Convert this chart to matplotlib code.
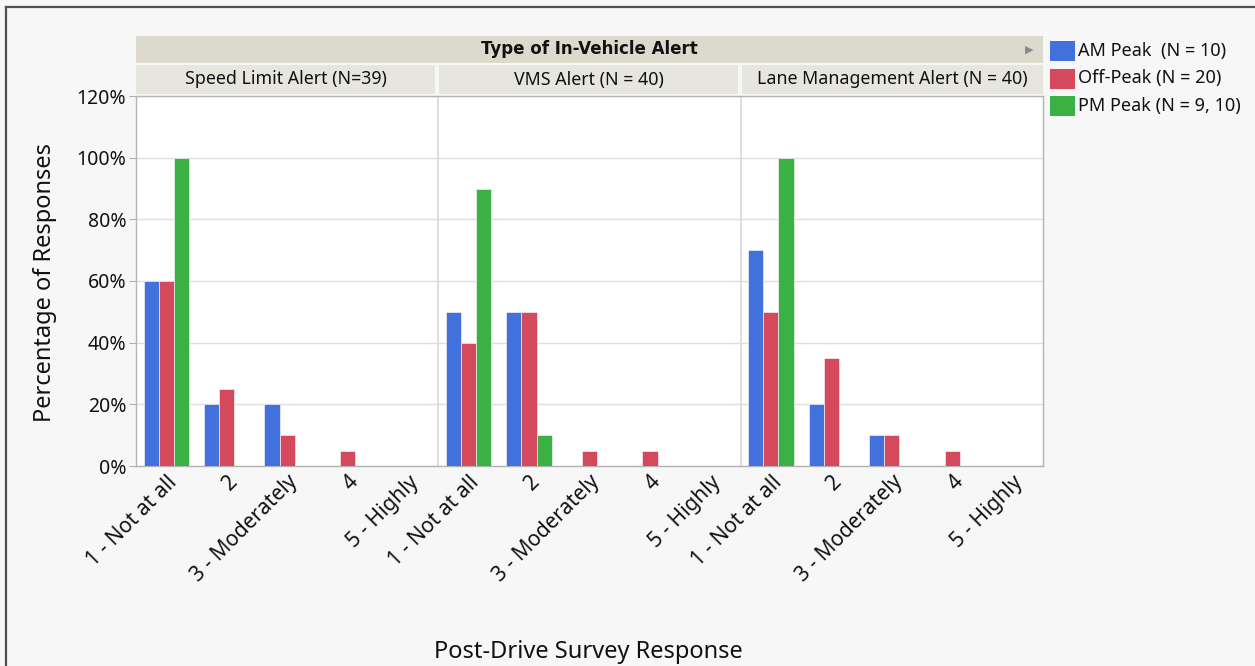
import matplotlib.pyplot as plt
import numpy as np
from matplotlib.patches import Rectangle
from matplotlib.lines import Line2D
from matplotlib.ticker import PercentFormatter

plt.rcParams['font.family'] = ['Noto Sans', 'DejaVu Sans']

# data (percent of responses)
panels = ['Speed Limit Alert (N=39)', 'VMS Alert (N = 40)', 'Lane Management Alert (N = 40)']
responses = ['1 - Not at all', '2', '3 - Moderately', '4', '5 - Highly']
series = ['AM Peak  (N = 10)', 'Off-Peak (N = 20)', 'PM Peak (N = 9, 10)']
colors = ['#4271DE', '#D44A5C', '#3BB143']

am_peak = [[60, 20, 20, 0, 0], [50, 50, 0, 0, 0], [70, 20, 10, 0, 0]]
off_peak = [[60, 25, 10, 5, 0], [40, 50, 5, 5, 0], [50, 35, 10, 5, 0]]
pm_peak = [[100, 0, 0, 0, 0], [90, 10, 0, 0, 0], [100, 0, 0, 0, 0]]

W, H = 1255, 666
fig = plt.figure(figsize=(W / 100, H / 100), dpi=100, facecolor='#f7f7f7')


def px_axes(x0, y0, x1, y1):
    # pixel box (top-left origin) -> figure axes
    return fig.add_axes([x0 / W, 1 - y1 / H, (x1 - x0) / W, (y1 - y0) / H])


# outer frame
fig.add_artist(Line2D([6 / W, 6 / W], [0, 1 - 7 / H], color='#505050', lw=1.6))
fig.add_artist(Line2D([6 / W, 1], [1 - 7 / H, 1 - 7 / H], color='#505050', lw=1.6))

ax = px_axes(136, 96, 1043, 466)
ax.set_facecolor('white')

n_cat = len(responses)
bw = 0.25
for p in range(len(panels)):
    x = np.arange(n_cat) + p * n_cat
    for k, vals in enumerate([am_peak, off_peak, pm_peak]):
        v = np.array(vals[p]) / 100
        keep = v > 0
        ax.bar(x[keep] + (k - 1) * bw, v[keep], bw, color=colors[k],
               edgecolor='#f0f0f0', linewidth=0.5, zorder=3)

ax.set_xlim(-0.5, len(panels) * n_cat - 0.5)
ax.set_ylim(0, 1.2)
ax.set_yticks(np.arange(0, 1.21, 0.2))
ax.yaxis.set_major_formatter(PercentFormatter(1.0, decimals=0))
ax.grid(axis='y', color='#dedede', lw=1, zorder=0)
for b in [n_cat - 0.5, 2 * n_cat - 0.5]:
    ax.axvline(b, color='#d8d8d8', lw=1.2, zorder=1)

ax.set_xticks(np.arange(len(panels) * n_cat))
ax.set_xticklabels(responses * len(panels), rotation=45, ha='right',
                   rotation_mode='anchor', fontsize=15, color='#111111')
ax.tick_params(axis='x', length=0, pad=4)
ax.tick_params(axis='y', length=5, color='#b0b0b0', labelsize=14,
               labelcolor='#111111', pad=2)
for s in ax.spines.values():
    s.set_color('#b4b4b4')
    s.set_linewidth(1)

fig.text(45 / W, 1 - 282 / H, 'Percentage of Responses', rotation=90,
         ha='center', va='center', fontsize=17, color='#111111')
fig.text(588 / W, 1 - 652 / H, 'Post-Drive Survey Response',
         ha='center', va='center', fontsize=17, color='#111111')

# header strips
top = px_axes(136, 36, 1043, 63)
top.set_facecolor('#dcdacd')
top.set_xticks([])
top.set_yticks([])
for s in top.spines.values():
    s.set_visible(False)
top.text(0.5, 0.5, 'Type of In-Vehicle Alert', ha='center', va='center',
         fontsize=12, fontweight='bold', family='DejaVu Sans',
         transform=top.transAxes, color='#111111')
top.text((1029 - 136) / 907, 0.5, '\u25B6', ha='center', va='center', fontsize=8,
         color='#8a8a8a', transform=top.transAxes, family='DejaVu Sans')

edges = [136, 437, 740, 1043]
for p, name in enumerate(panels):
    sa = px_axes(edges[p] + (0 if p == 0 else 2), 65, edges[p + 1] - (0 if p == 2 else 2), 94)
    sa.set_facecolor('#e7e6de')
    sa.set_xticks([])
    sa.set_yticks([])
    for s in sa.spines.values():
        s.set_visible(False)
    sa.text(0.5, 0.5, name, ha='center', va='center', fontsize=12.8,
            transform=sa.transAxes, color='#111111')

# legend
for k, lab in enumerate(series):
    yc = 51 + k * 27.5
    fig.add_artist(Rectangle((1050 / W, 1 - (yc + 10) / H), 25 / W, 20 / H,
                             facecolor=colors[k], edgecolor='none'))
    fig.text(1078 / W, 1 - yc / H, lab, ha='left', va='center', fontsize=13,
             color='#111111')

fig.savefig('out.png', dpi=100, facecolor=fig.get_facecolor())
